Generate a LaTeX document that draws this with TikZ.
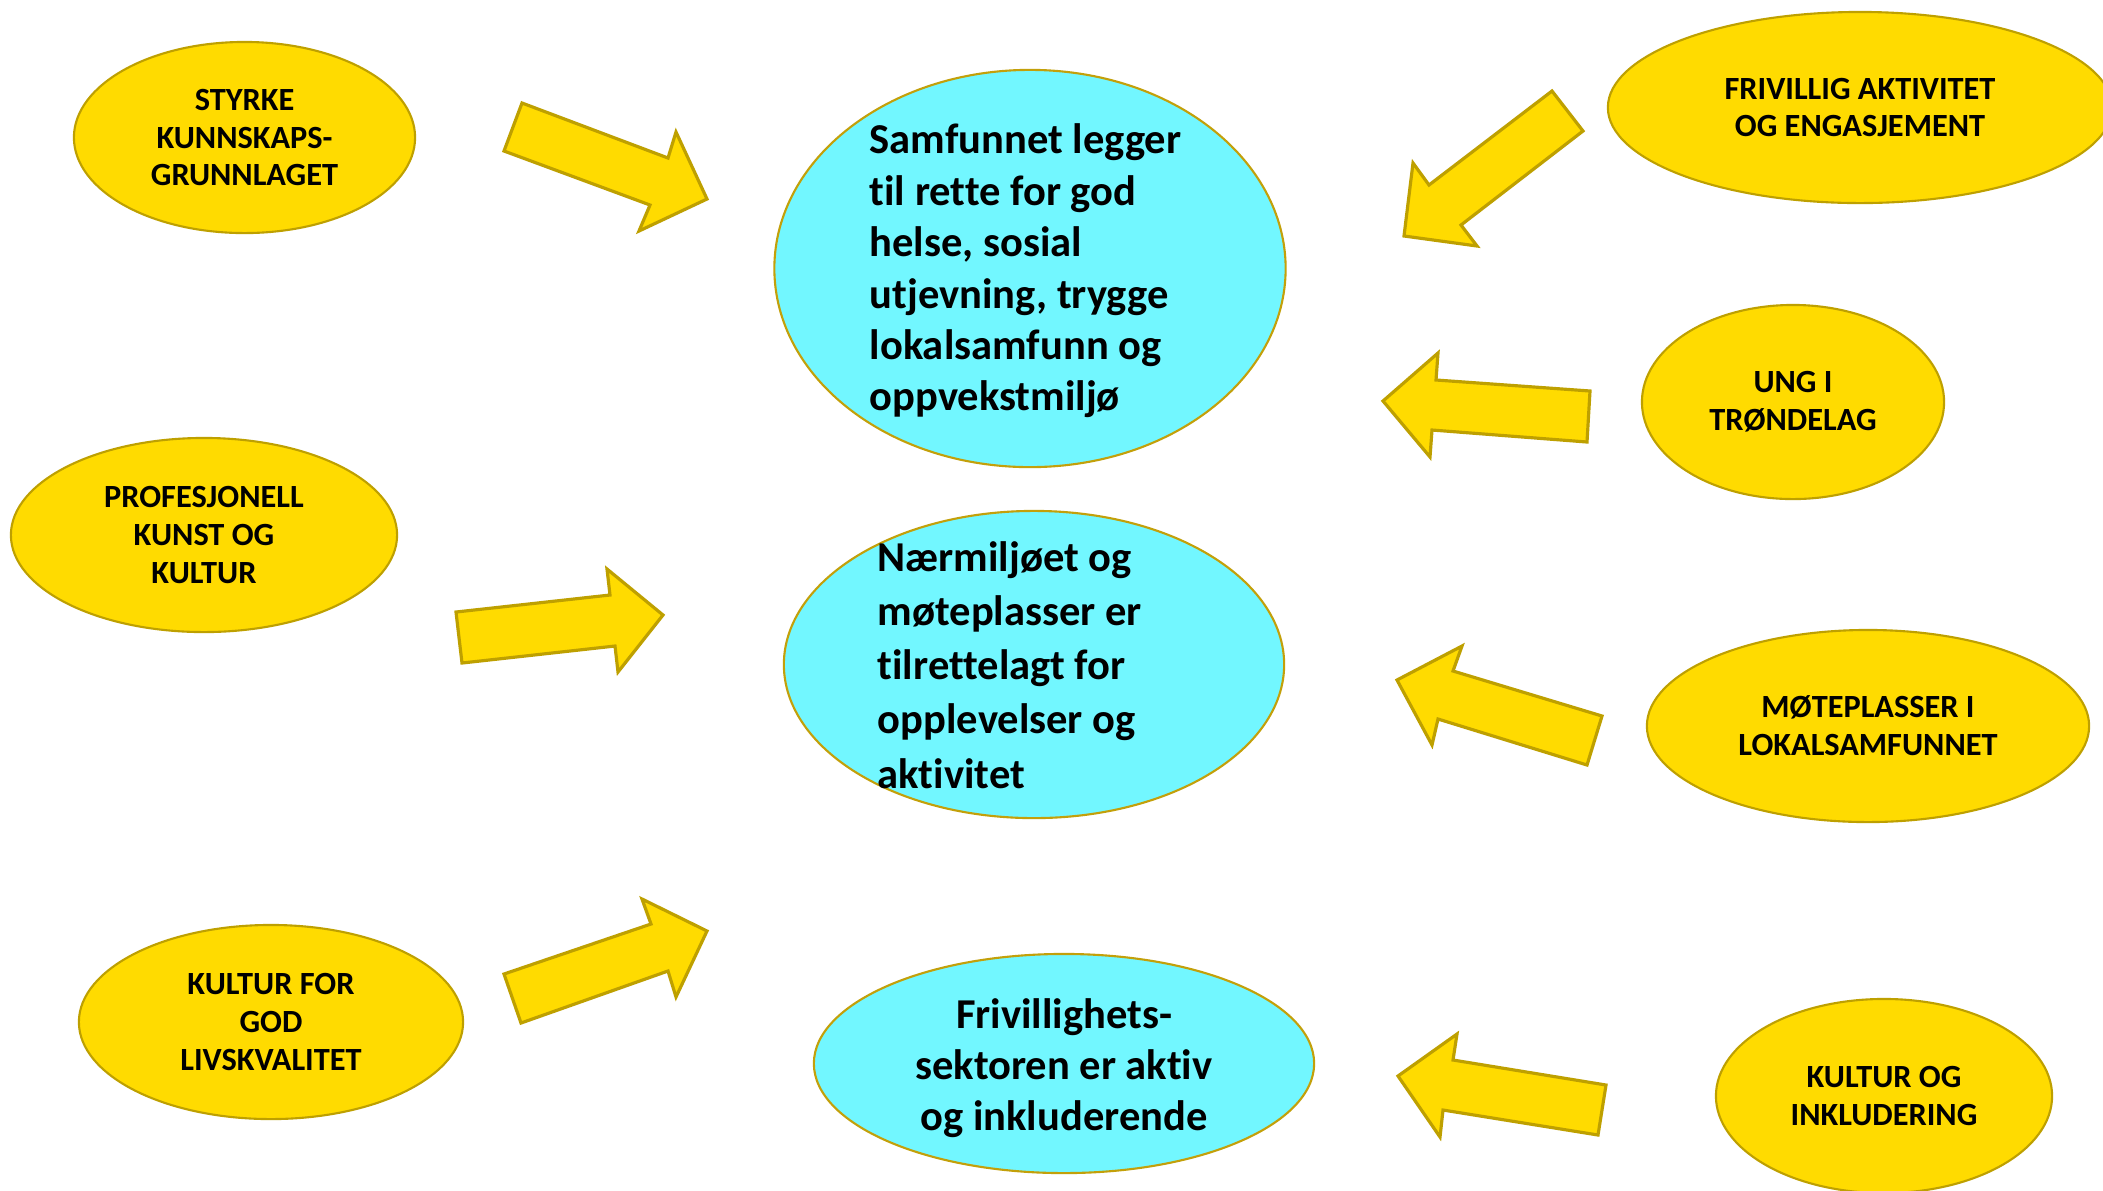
\documentclass[tikz,border=0pt]{standalone}
\usepackage{fontspec}
\setmainfont{Carlito}[Ligatures=NoCommon]
\usetikzlibrary{shapes.geometric}
\definecolor{ylw}{RGB}{255,219,0}
\definecolor{ylwedge}{RGB}{190,160,0}
\definecolor{cyn}{RGB}{114,247,255}
\definecolor{cynedge}{RGB}{195,160,10}
\tikzset{
  goal/.style={ellipse, fill=ylw, draw=ylwedge, line width=0.6pt, inner sep=0pt, align=center,
    font=\fontsize{9.2}{10.8}\selectfont\bfseries},
  aim/.style={ellipse, fill=cyn, draw=cynedge, line width=0.6pt, inner sep=0pt},
  bigtext/.style={inner sep=0pt, font=\fontsize{12.1}{14.6}\selectfont\bfseries},
  blockarrow/.style={fill=ylw, draw=ylwedge, line width=0.9pt, line join=miter}
}
\begin{document}
\begin{tikzpicture}[x=0.01cm,y=-0.01cm]
\useasboundingbox (0,0) rectangle (2103,1190);
\fill[white] (0,0) rectangle (2103,1190);

% central ellipses
\node[aim, minimum width=5.11cm, minimum height=3.97cm] (c1) at (1030,268.5) {};
\node[aim, minimum width=5.00cm, minimum height=3.07cm] (c2) at (1034,664.5) {};
\node[aim, minimum width=5.00cm, minimum height=2.19cm] (c3) at (1064,1063.5) {};

\node[bigtext, anchor=west, align=left] (t1) at (869,271)
  {Samfunnet legger\\til rette for god\\helse, sosial\\utjevning, trygge\\lokalsamfunn og\\oppvekstmiljø};
\node[bigtext, anchor=west, align=left, font=\fontsize{12.1}{15.4}\selectfont\bfseries] (t2) at (877,665)
  {Nærmiljøet og\\møteplasser er\\tilrettelagt for\\opplevelser og\\aktivitet};
\node[bigtext, align=center] (t3) at (1064,1068)
  {Frivillighets-\\sektoren er aktiv\\og inkluderende};

% surrounding ellipses
\node[goal, minimum width=3.41cm, minimum height=1.91cm] (y1) at (244.5,137.5) {STYRKE\\KUNNSKAPS-\\GRUNNLAGET};
\node[goal, minimum width=3.86cm, minimum height=1.94cm] (y2) at (204,535) {PROFESJONELL\\KUNST OG\\KULTUR};
\node[goal, minimum width=3.84cm, minimum height=1.94cm] (y3) at (271,1022) {KULTUR FOR\\GOD\\LIVSKVALITET};
\node[goal, minimum width=5.04cm, minimum height=1.91cm] (y4) at (1860,107.5) {FRIVILLIG AKTIVITET\\OG ENGASJEMENT};
\node[goal, minimum width=3.02cm, minimum height=1.94cm] (y5) at (1793,402) {UNG I\\TRØNDELAG};
\node[goal, minimum width=4.42cm, minimum height=1.92cm] (y6) at (1868,726) {MØTEPLASSER I\\LOKALSAMFUNNET};
\node[goal, minimum width=3.36cm, minimum height=1.94cm] (y7) at (1884,1096) {KULTUR OG\\INKLUDERING};

% block arrows
\draw[blockarrow] (504,151) -- (522,103) -- (668,158) -- (676,132) -- (707,199) -- (639,231) -- (650,205) -- cycle;
\draw[blockarrow] (1552,91) -- (1583,131) -- (1461,225) -- (1477,246) -- (1404,236) -- (1413,163) -- (1429,185) -- cycle;
\draw[blockarrow] (1590,391) -- (1587,442) -- (1432,430) -- (1430,457) -- (1383,401) -- (1438,353) -- (1436,380) -- cycle;
\draw[blockarrow] (1602,716) -- (1587,765) -- (1438,719) -- (1432,745) -- (1397,680) -- (1462,646) -- (1453,671) -- cycle;
\draw[blockarrow] (456,612) -- (462,663) -- (615,646) -- (618,672) -- (663,615) -- (607,569) -- (610,595) -- cycle;
\draw[blockarrow] (504,974) -- (521,1023) -- (668,971) -- (676,997) -- (707,931) -- (642,899) -- (651,924) -- cycle;
\draw[blockarrow] (1606,1085) -- (1598,1135) -- (1443,1110) -- (1440,1137) -- (1398,1076) -- (1457,1034) -- (1453,1060) -- cycle;
\end{tikzpicture}
\end{document}
